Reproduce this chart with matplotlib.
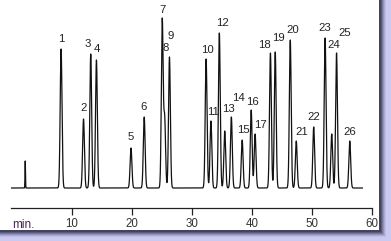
import matplotlib
matplotlib.use("Agg")
import matplotlib.pyplot as plt
import numpy as np
from matplotlib.patches import Rectangle

# peak retention times (min) and heights (detector units)
peak_time = [8.27, 12.0, 13.2, 14.15, 19.9, 22.1, 25.1, 25.5, 26.3, 32.4, 33.2, 34.6, 35.5,
             36.6, 38.4, 39.9, 40.55, 43.1, 43.9, 46.4, 47.4, 50.3, 52.2, 53.3, 54.1, 56.3]
peak_height = [139, 69, 134, 128, 40, 71, 168, 69, 131, 129, 67, 155, 57,
               71, 48, 78, 54, 135, 136, 148, 47, 61, 150, 54, 135, 47]
peak_label = [str(i) for i in range(1, 27)]
inject_time = 2.3
inject_height = 27
run_end = 58.4

# label centre offsets in pixels from the peak apex (dx right, dy up)
label_off = [(0, 10), (0, 11), (-3, 10), (0, 11), (0, 11), (-1, 10), (0, 10), (1, 71), (1, 21),
             (1, 9), (2, 9), (3, 10), (4, 22), (7, 19), (1, 10), (1, 8), (5, 9), (-6, 8),
             (3, 14), (2, 10), (5, 9), (0, 10), (0, 10), (2, 89), (8, 20), (0, 9)]

t = np.linspace(0, run_end, 8000)
sig = np.zeros_like(t)
for tr, h in zip(peak_time, peak_height):
    sig += h * np.exp(-0.5 * ((t - tr) / 0.15) ** 2)
sig += inject_height * np.exp(-0.5 * ((t - inject_time) / 0.04) ** 2)

W, H = 391, 241
fig = plt.figure(figsize=(W / 100, H / 100), dpi=100)
fig.patch.set_facecolor('#c9c9f2')

# white panel with a soft drop shadow
for i, a in enumerate([0.10, 0.16, 0.24, 0.34, 0.46, 0.6]):
    off = 7 - i
    fig.patches.append(Rectangle((-10 / W, (H - 230 - off) / H), (379 + off + 10) / W, (240 + off) / H,
                                 transform=fig.transFigure, facecolor='#202040', alpha=a * 0.7,
                                 edgecolor='none', zorder=0))
fig.patches.append(Rectangle((-10 / W, (H - 230) / H), (389) / W, 250 / H,
                             transform=fig.transFigure, facecolor='white', edgecolor='none', zorder=1))

ax = fig.add_axes([11.4 / W, (H - 208) / H, 360.6 / W, 203 / H])
ax.set_zorder(5)
ax.set_facecolor('none')
ax.plot(t, sig, color='#111111', lw=0.9)
ax.set_xlim(0, 60)
ax.set_ylim(-20, 183)

for tr, h, lab, (dx, dy) in zip(peak_time, peak_height, peak_label, label_off):
    ax.annotate(lab, (tr, h), xytext=(dx * 0.72, dy * 0.72), textcoords='offset points',
                ha='center', va='center', fontsize=8.2, family='Liberation Sans', color='#222222')

for s in ['top', 'right', 'left']:
    ax.spines[s].set_visible(False)
ax.spines['bottom'].set_linewidth(0.9)
ax.spines['bottom'].set_color('#222222')
ax.set_yticks([])
ax.set_xticks([10, 20, 30, 40, 50, 60])
ax.tick_params(axis='x', direction='out', length=5, width=0.9, color='#222222',
               pad=2, labelsize=8.3, labelcolor='#333333')
for lb in ax.get_xticklabels():
    lb.set_family('Liberation Sans')
ax.text(0.2, -0.055, 'min.', transform=ax.get_xaxis_transform(), va='top', ha='left',
        fontsize=8.5, family='Liberation Sans', color='#4a2456')

fig.savefig('out.png', dpi=100, facecolor=fig.get_facecolor())
